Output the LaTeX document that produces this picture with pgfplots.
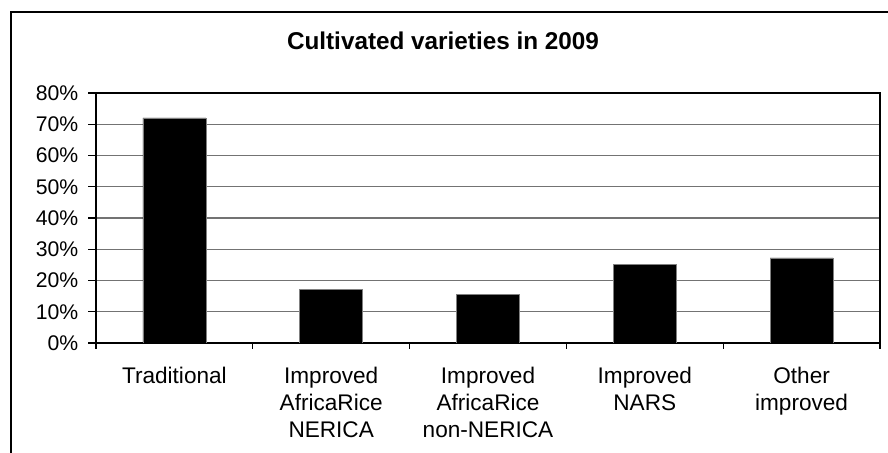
\documentclass[border=0pt]{standalone}
\usepackage{fontspec}
\setmainfont{Liberation Sans}
\usepackage{pgfplots}
\pgfplotsset{compat=1.18}
\begin{document}
\begin{tikzpicture}[x=1pt,y=1pt]
\useasboundingbox (0,0) rectangle (444,226.5);
% outer chart frame (cropped at right and bottom)
\draw[line width=1pt] (5.5,-1) -- (5.5,220.5) -- (445,220.5);
\node[font=\bfseries\fontsize{12.15}{14}\selectfont, anchor=base] at (221.5,201.5) {Cultivated varieties in 2009};
\begin{axis}[
  at={(48pt,55pt)}, anchor=south west,
  width=392pt, height=125pt, scale only axis,
  ymin=0, ymax=80, ytick={0,10,...,80},
  yticklabels={0\%,10\%,20\%,30\%,40\%,50\%,60\%,70\%,80\%},
  xmin=-0.5, xmax=4.5,
  xtick={0,...,4},
  xticklabels={Traditional,{Improved\\AfricaRice\\NERICA},{Improved\\AfricaRice\\non-NERICA},{Improved\\NARS},{Other\\improved}},
  major x tick style={draw=none},
  minor xtick={-0.5,0.5,...,4.5},
  xtick pos=lower, ytick pos=left,
  tick align=outside,
  major tick length=4pt, minor tick length=3pt,
  tick style={black, line width=0.6pt},
  ymajorgrids, grid style={black!55, line width=0.6pt},
  axis line style={black, line width=0.7pt},
  yticklabel style={font=\fontsize{10.6}{12}\selectfont, xshift=-1.3pt},
  xticklabel style={font=\fontsize{11.3}{13.5}\selectfont, align=center, yshift=-4.3pt},
]
\addplot[ybar, bar width=31.5pt, fill=black, draw=black!50, line width=0.4pt]
  coordinates {(0,72) (1,17) (2,15.4) (3,25.2) (4,27.2)};
\end{axis}
\end{tikzpicture}
\end{document}
